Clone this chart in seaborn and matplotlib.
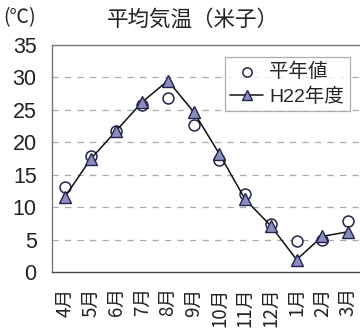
import matplotlib
matplotlib.use("Agg")
import matplotlib.pyplot as plt
import seaborn as sns
import pandas as pd
import numpy as np

months = ["4月", "5月", "6月", "7月", "8月", "9月", "10月", "11月", "12月", "1月", "2月", "3月"]
normal = [13.1, 17.9, 21.8, 25.7, 26.8, 22.6, 17.2, 12.1, 7.4, 4.8, 5.0, 7.9]
h22 = [11.6, 17.4, 21.8, 26.2, 29.5, 24.7, 18.2, 11.2, 7.1, 1.9, 5.5, 6.2]
yticks = [0, 5, 10, 15, 20, 25, 30, 35]

sns.set_theme(style="white")
plt.rcParams["font.family"] = ["Liberation Sans", "Noto Sans CJK JP"]

df = pd.DataFrame({"pos": np.arange(len(months)), "month": months,
                   "平年値": normal, "H22年度": h22})

fig = plt.figure(figsize=(3.6, 3.31), dpi=100)
ax = fig.add_axes([52 / 360, (331 - 272) / 331, 309 / 360, 227 / 331])

sns.scatterplot(data=df, x="pos", y="平年値", ax=ax, marker="o", s=62,
                facecolor="white", edgecolor="#23234d", linewidth=1.1,
                label="平年値", zorder=3)
sns.lineplot(data=df, x="pos", y="H22年度", ax=ax, color="#111111", linewidth=1.1,
             marker="^", markersize=9, markerfacecolor="#8c8cbf",
             markeredgecolor="#23234d", markeredgewidth=1.0,
             label="H22年度", zorder=4)

ax.set_xlim(-0.5, len(months) - 0.5)
ax.set_ylim(0, 35)
ax.set_yticks(yticks)
ax.set_yticklabels([str(v) for v in yticks], fontsize=15.5, color="#222222")
ax.set_xticks(np.arange(len(months)))
ax.set_xticklabels(months, rotation=90, fontsize=13.5, color="#222222",
                   family=["Noto Sans CJK JP"])
ax.set_xticks(np.arange(len(months) - 1) + 0.5, minor=True)
ax.tick_params(axis="x", which="major", length=0, pad=11)
ax.tick_params(axis="x", which="minor", direction="in", length=4, color="#999999", width=0.8)
ax.tick_params(axis="y", length=0, pad=11)
ax.set_xlabel("")
ax.set_ylabel("")

for v in yticks[1:-1]:
    ax.axhline(v, color="#aaaaaa", linestyle=(0, (5, 5)), linewidth=0.9, zorder=1)

for side in ["left", "bottom", "top"]:
    ax.spines[side].set_visible(True)
    ax.spines[side].set_color("#777777")
    ax.spines[side].set_linewidth(1.0)
ax.spines["bottom"].set_color("#444444")
ax.spines["right"].set_visible(False)

leg = ax.legend(loc="upper right", bbox_to_anchor=((350 - 52) / 309, (272 - 57) / 227),
                borderaxespad=0, frameon=True, fancybox=False, edgecolor="#999999",
                handlelength=1.7, handletextpad=0.3, borderpad=0.3,
                labelspacing=0.3, markerscale=0.85,
                prop={"family": ["Liberation Sans", "Noto Sans CJK JP"], "size": 14})
leg.get_frame().set_linewidth(0.9)

fig.text(193 / 360, 1 - 20 / 331, "平均気温（米子）", ha="center", va="center",
         fontsize=15.5, family=["Noto Sans CJK JP"], color="#222222")
fig.text(3 / 360, 1 - 18 / 331, "(℃)", ha="left", va="center",
         fontsize=14, family=["Noto Sans CJK JP"], color="#222222")

fig.savefig("out.png", dpi=100)
